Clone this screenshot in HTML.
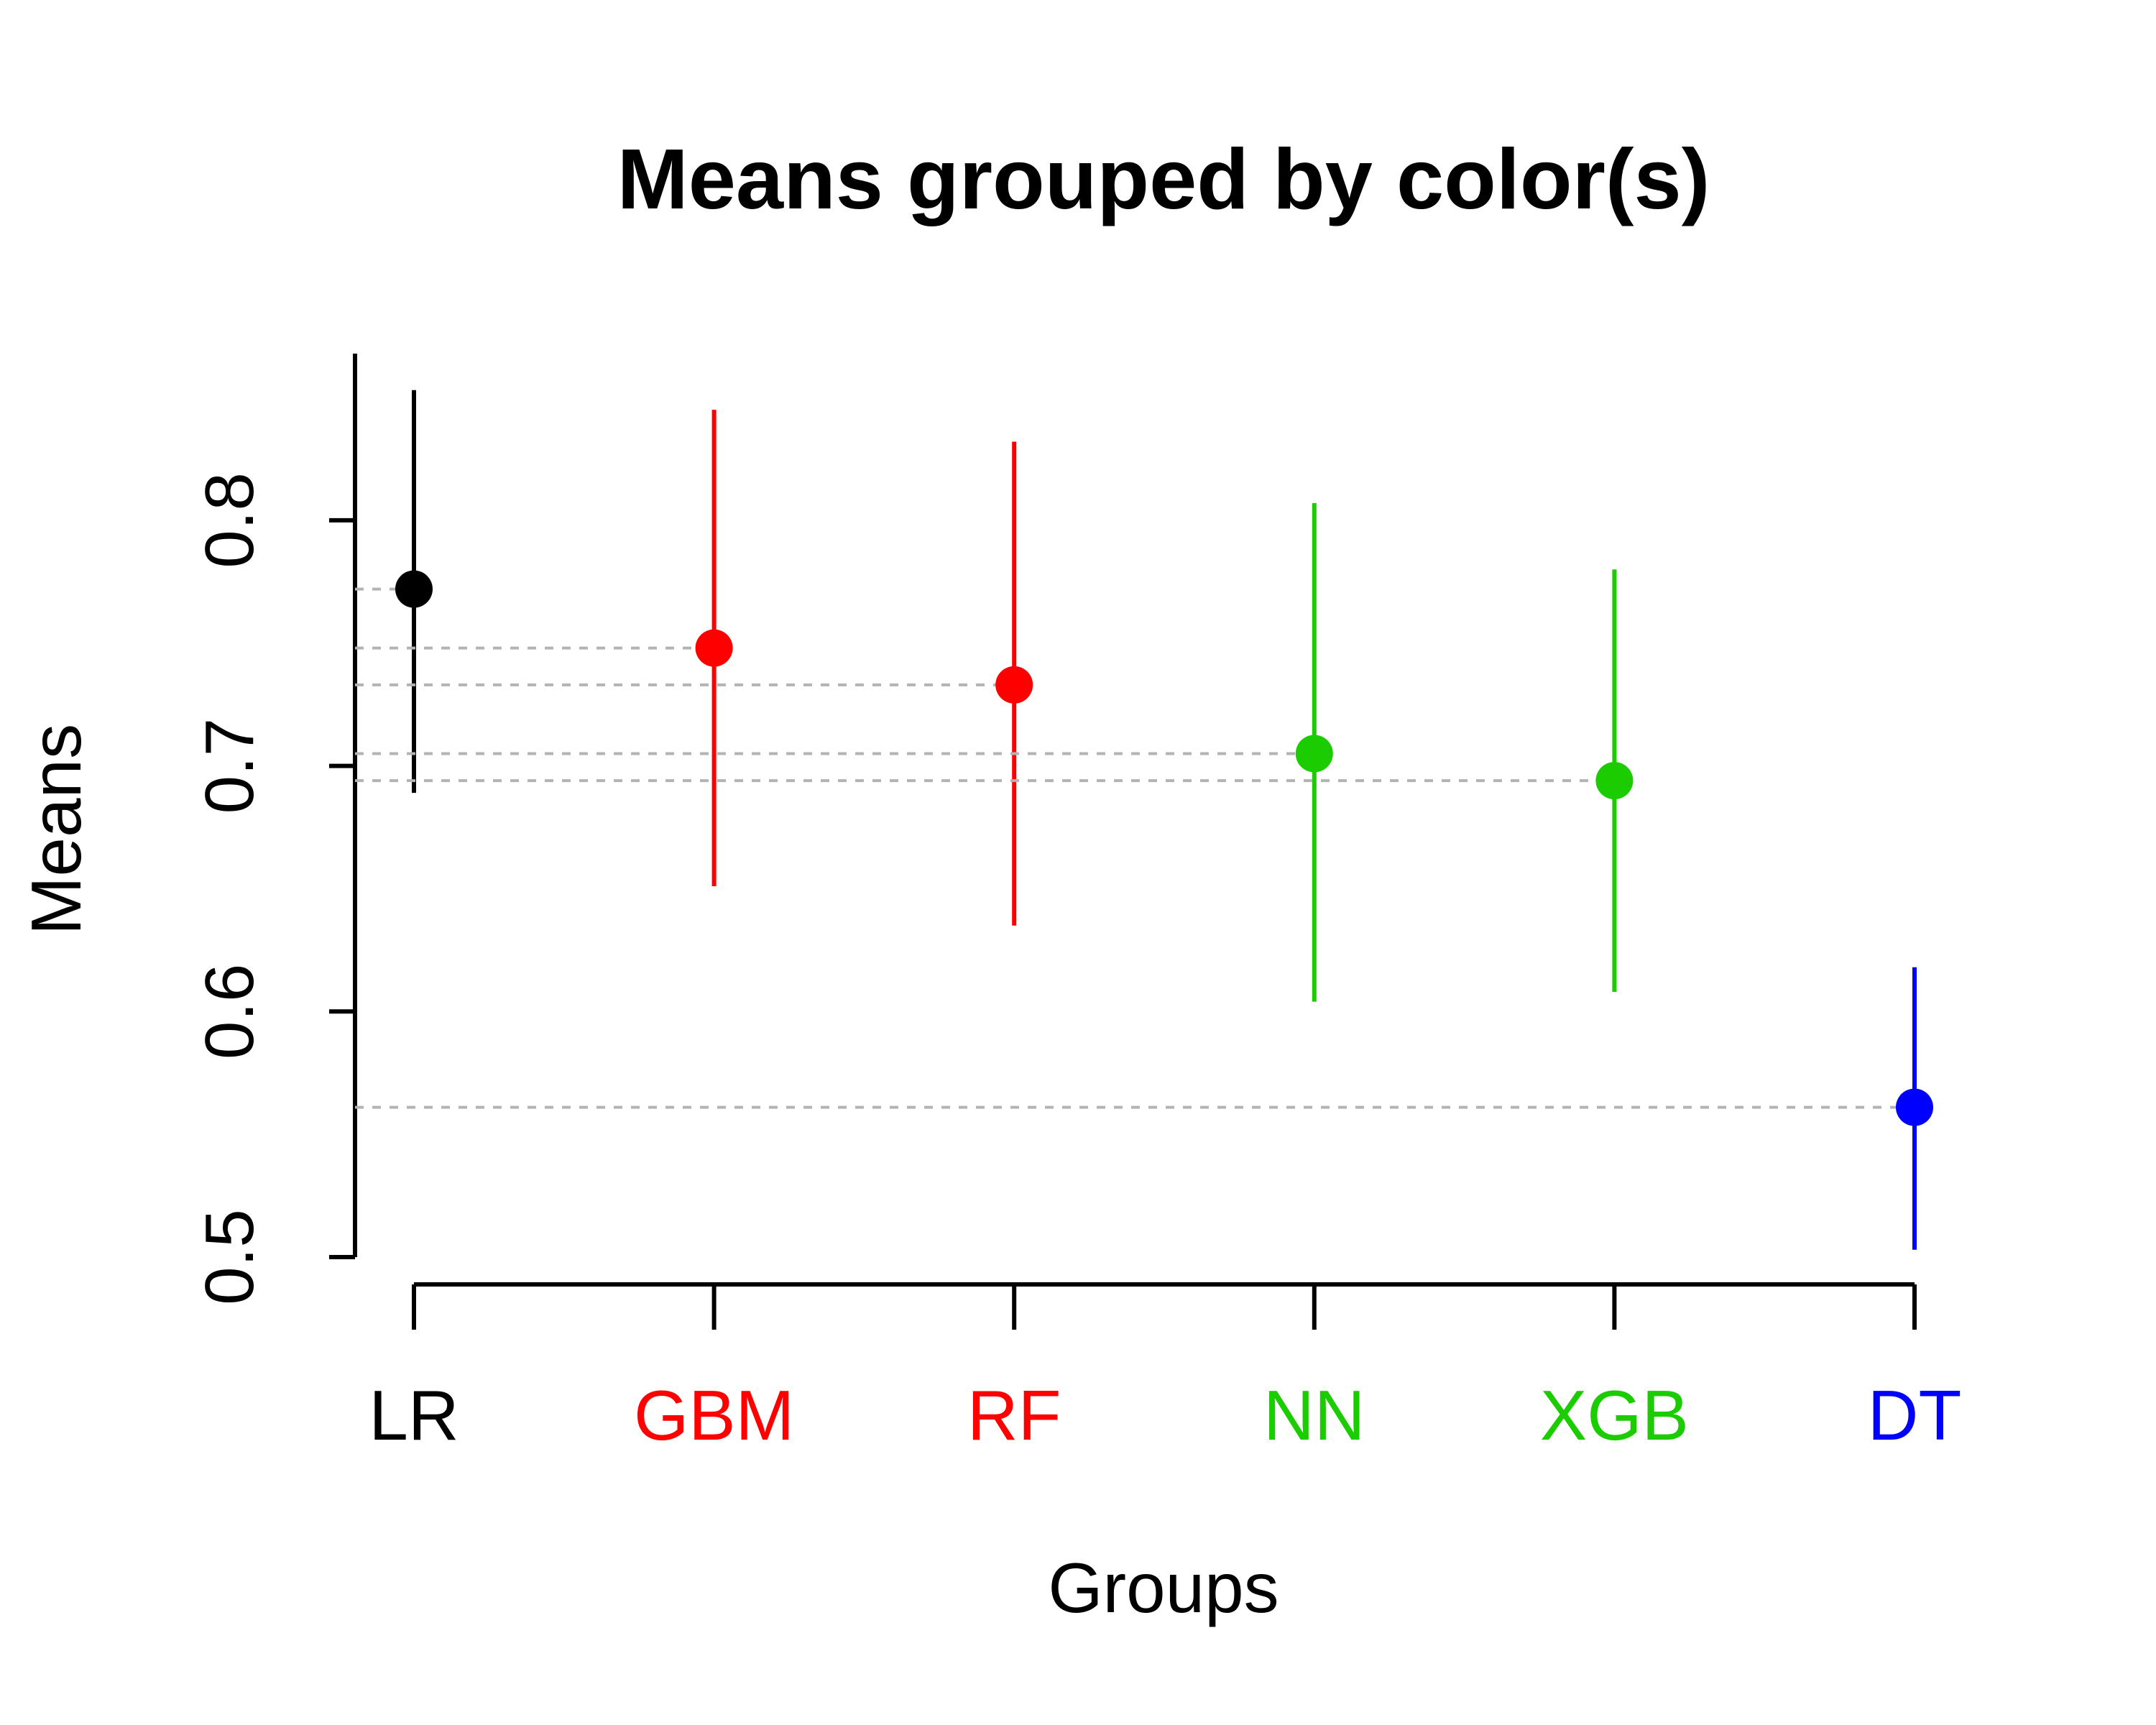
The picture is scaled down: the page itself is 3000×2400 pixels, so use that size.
<!DOCTYPE html>
<html><head><meta charset="utf-8"><style>
html,body{margin:0;padding:0;background:#fff;}
svg{display:block;font-family:"Liberation Sans",Arial,sans-serif;}
</style></head><body>
<svg id="chart" width="3000" height="2400" viewBox="0 0 3000 2400">
<rect width="3000" height="2400" fill="#fff"/>
<text x="1619" y="290" text-anchor="middle" font-size="119" font-weight="bold">Means grouped by color(s)</text>
<text x="1619" y="2243" text-anchor="middle" font-size="98">Groups</text>
<text transform="translate(112,1154) rotate(-90)" text-anchor="middle" font-size="98">Means</text>
<g id="plot"></g>
</svg>
<script>
const categories = ["LR","GBM","RF","NN","XGB","DT"];
const means = [0.772,0.748,0.733,0.705,0.694,0.561];
const upper = [0.853,0.845,0.832,0.807,0.780,0.618];
const lower = [0.689,0.651,0.635,0.604,0.608,0.503];
const colors = ["#000000","#ff0000","#ff0000","#1acc00","#1acc00","#0000ff"];
const yTicks = [0.5,0.6,0.7,0.8];
const yTickLabels = ["0.5","0.6","0.7","0.8"];

const NS = "http://www.w3.org/2000/svg";
const g = document.getElementById("plot");
function y(v){ return 1749 - (v - 0.5) * 3417; }
function x(i){ return 576 + i * (2664 - 576) / (categories.length - 1); }
function mk(tag, attrs){ const e = document.createElementNS(NS, tag); for (const k in attrs) e.setAttribute(k, attrs[k]); g.appendChild(e); return e; }

let e = mk("line",{x1:494,x2:494,y1:492,y2:y(0.5),stroke:"#000","stroke-width":6});


yTicks.forEach((t,i)=>{
  const l = mk("line",{x1:458,x2:494,y1:y(t),y2:y(t),stroke:"#000","stroke-width":6});
  
  
  const tx = mk("text",{transform:`translate(352,${y(t)}) rotate(-90)`,"text-anchor":"middle","font-size":96});
  tx.textContent = yTickLabels[i];
  
  
});
e = mk("line",{x1:x(0),x2:x(categories.length-1),y1:1787,y2:1787,stroke:"#000","stroke-width":6});


categories.forEach((c,i)=>{
  const l = mk("line",{x1:x(i),x2:x(i),y1:1787,y2:1850,stroke:"#000","stroke-width":6});
  
  
  const tx = mk("text",{x:x(i),y:2003,"text-anchor":"middle","font-size":98,fill:colors[i]});
  tx.textContent = c;
  
  
});
categories.forEach((c,i)=>{
  const d = mk("line",{x1:494,x2:x(i),y1:y(means[i]),y2:y(means[i]),stroke:"#b3b3b3","stroke-width":4,"stroke-dasharray":"12,12"});
  
  
  const eb = mk("line",{x1:x(i),x2:x(i),y1:y(upper[i]),y2:y(lower[i]),stroke:colors[i],"stroke-width":6});
  
  
  const p = mk("circle",{cx:x(i),cy:y(means[i]),r:26,fill:colors[i]});
  
  
});
</script>
</body></html>
